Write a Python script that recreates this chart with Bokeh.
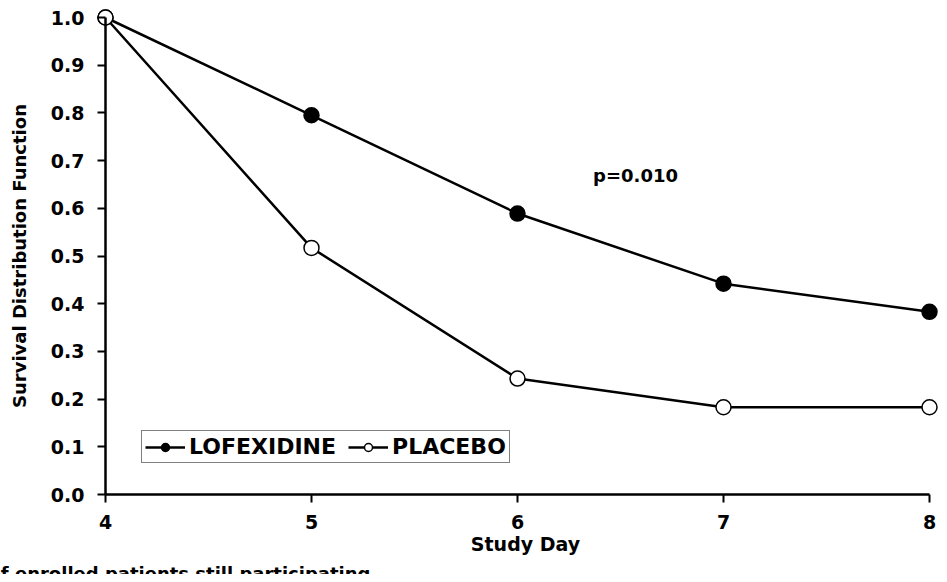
import math
from bokeh.plotting import figure
from bokeh.models import Range1d, Label, Legend, LegendItem, FixedTicker, NumeralTickFormatter
from bokeh.embed import file_html
from bokeh.resources import INLINE

# ---- data ----
days = [4, 5, 6, 7, 8]
lofexidine = [1.0, 0.795, 0.589, 0.442, 0.383]
placebo = [1.0, 0.517, 0.243, 0.183, 0.183]
x_ticks = [4, 5, 6, 7, 8]
y_ticks = [0.0, 0.1, 0.2, 0.3, 0.4, 0.5, 0.6, 0.7, 0.8, 0.9, 1.0]
series_names = ["LOFEXIDINE", "PLACEBO"]
x_title = "Study Day"
y_title = "Survival Distribution Function"
p_value_text = "p=0.010"
caption_text = "of enrolled patients still participating"

# ---- layout ----
W, H = 939, 574
X0_PX, Y0_PX = 105.0, 494.0   # canvas position of (day 4, 0.0)
PX_X = 206.0   # pixels per day
PX_Y = 477.0   # pixels per unit of survival
FONT = "DejaVu Sans"


def dx(cx):
    return 4 + (cx - X0_PX) / PX_X


def dy(cy):
    return (Y0_PX - cy) / PX_Y


p = figure(width=W, height=H, output_backend="svg", toolbar_location=None, title=None,
           x_range=Range1d(dx(0), dx(W)), y_range=Range1d(dy(H), dy(0)),
           min_border=0, min_border_left=0, min_border_right=0,
           min_border_top=0, min_border_bottom=0)
p.outline_line_color = None
p.grid.visible = False
p.background_fill_color = "white"
p.border_fill_color = "white"

for ax in (p.xaxis[0], p.yaxis[0]):
    ax.axis_line_width = 2.5
    ax.axis_line_color = "black"
    ax.major_tick_line_width = 2
    ax.major_tick_line_color = "black"
    ax.major_tick_out = 8
    ax.major_tick_in = 0
    ax.minor_tick_line_color = None
    ax.major_label_text_font = FONT
    ax.major_label_text_font_style = "bold"
    ax.major_label_text_font_size = "19px"
    ax.major_label_text_color = "black"

p.xaxis.fixed_location = 0
p.yaxis.fixed_location = 4
p.xaxis.bounds = (4, 8)
p.yaxis.bounds = (0, 1)
p.xaxis.ticker = FixedTicker(ticks=x_ticks)
p.yaxis.ticker = FixedTicker(ticks=y_ticks)
p.xaxis.formatter = NumeralTickFormatter(format="0")
p.yaxis.formatter = NumeralTickFormatter(format="0.0")
p.xaxis.major_label_standoff = 12
p.yaxis.major_label_standoff = 13

l1 = p.line(days, lofexidine, line_color="black", line_width=2.5)
l2 = p.line(days, placebo, line_color="black", line_width=2.5)
s1 = p.scatter(days, lofexidine, size=15, fill_color="black", line_color="black", line_width=1.5)
s2 = p.scatter(days, placebo, size=15, fill_color="white", line_color="black", line_width=1.5)

legend = Legend(items=[LegendItem(label=series_names[0], renderers=[l1, s1]),
                       LegendItem(label=series_names[1], renderers=[l2, s2])],
                location=(141, H - 463), orientation="horizontal",
                border_line_color="black", border_line_width=1.5,
                background_fill_color="white", background_fill_alpha=1,
                label_text_font=FONT, label_text_font_style="bold", label_text_font_size="22px",
                label_text_color="black",
                glyph_width=40, glyph_height=20, label_standoff=4, spacing=12, padding=3, margin=0)
p.add_layout(legend)

p.add_layout(Label(x=dx(525), y=dy(543), text=x_title, text_align="center", text_baseline="alphabetic",
                   text_font=FONT, text_font_style="bold", text_font_size="19px", text_color="black"))
p.add_layout(Label(x=dx(19), y=0.5, text=y_title, angle=math.pi / 2, text_align="center",
                   text_baseline="alphabetic", text_font=FONT, text_font_style="bold",
                   text_font_size="18px", text_color="black"))
p.add_layout(Label(x=dx(635), y=dy(175), text=p_value_text, text_align="center",
                   text_baseline="alphabetic", text_font=FONT, text_font_style="bold",
                   text_font_size="18px", text_color="black"))
p.add_layout(Label(x=dx(-12), y=dy(562), text=caption_text, text_align="left",
                   text_baseline="top", text_font=FONT, text_font_style="bold",
                   text_font_size="18px", text_color="black"))

open("out.html", "w").write(file_html(p, INLINE))
